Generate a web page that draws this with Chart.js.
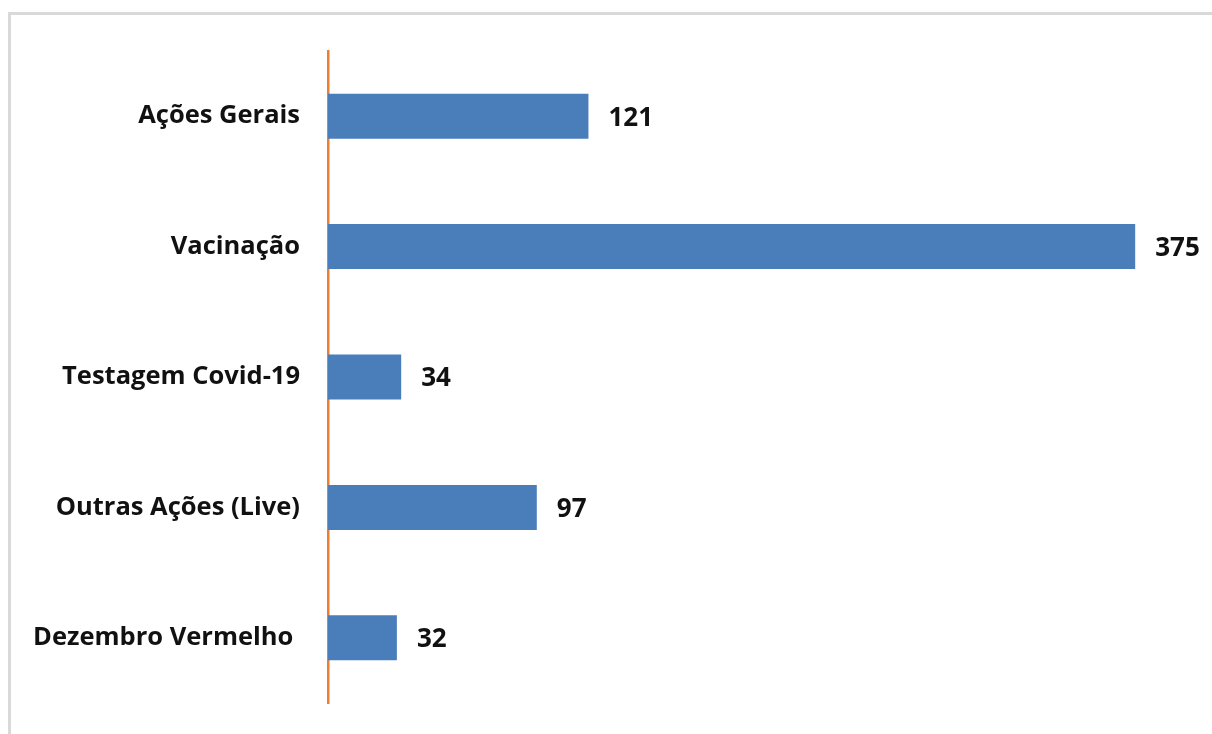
<!DOCTYPE html>
<html>
<head>
<meta charset="utf-8">
<script src="https://cdn.jsdelivr.net/npm/chart.js@4/dist/chart.umd.min.js"></script>
<style>
  html, body { margin: 0; padding: 0; background: #fff; overflow: hidden; }
  #frame { position: absolute; left: 8px; top: 12px; width: 1230px; height: 760px;
           border: 3px solid #d9d9d9; box-sizing: border-box; }
  #wrap { position: absolute; left: 0; top: 0; width: 1212px; height: 734px; }
</style>
</head>
<body>
<div id="frame"></div>
<div id="wrap"><canvas id="chart"></canvas></div>
<script>
var categories = ['Ações Gerais', 'Vacinação', 'Testagem Covid-19', 'Outras Ações (Live)', 'Dezembro Vermelho '];
var values = [121, 375, 34, 97, 32];
var axisMax = 400;

var labelFont = { family: 'Open Sans', weight: 'bold', size: 25.5 };

// draws the number at the end of each bar
var valueLabels = {
  id: 'valueLabels',
  afterDatasetsDraw: function (chart) {
    var ctx = chart.ctx;
    var meta = chart.getDatasetMeta(0);
    ctx.save();
    ctx.font = 'bold 26px "Open Sans"';
    ctx.fillStyle = '#111';
    ctx.textAlign = 'left';
    ctx.textBaseline = 'middle';
    meta.data.forEach(function (bar, i) {
      ctx.fillText(values[i], bar.x + 20, bar.y + 2);
    });
    ctx.restore();
  }
};

var ctx = document.getElementById('chart').getContext('2d');
var myChart = new Chart(ctx, {
  type: 'bar',
  data: {
    labels: categories,
    datasets: [{
      data: values,
      backgroundColor: '#4a7ebb',
      borderWidth: 0,
      categoryPercentage: 1,
      barPercentage: 0.345
    }]
  },
  options: {
    indexAxis: 'y',
    responsive: true,
    maintainAspectRatio: false,
    animation: false,
    layout: { padding: { top: 51, bottom: 31, right: 23, left: 0 } },
    plugins: { legend: { display: false }, tooltip: { enabled: false } },
    scales: {
      x: { display: false, min: 0, max: axisMax },
      y: {
        grid: { display: false, drawTicks: false },
        border: { color: '#ed7d31', width: 2.5 },
        ticks: { color: '#111', font: labelFont, padding: 28 },
        afterFit: function (scale) {
          scale.width = 328;
          scale.paddingTop = 0;
          scale.paddingBottom = 0;
        }
      }
    }
  },
  plugins: [valueLabels]
});
</script>
</body>
</html>
